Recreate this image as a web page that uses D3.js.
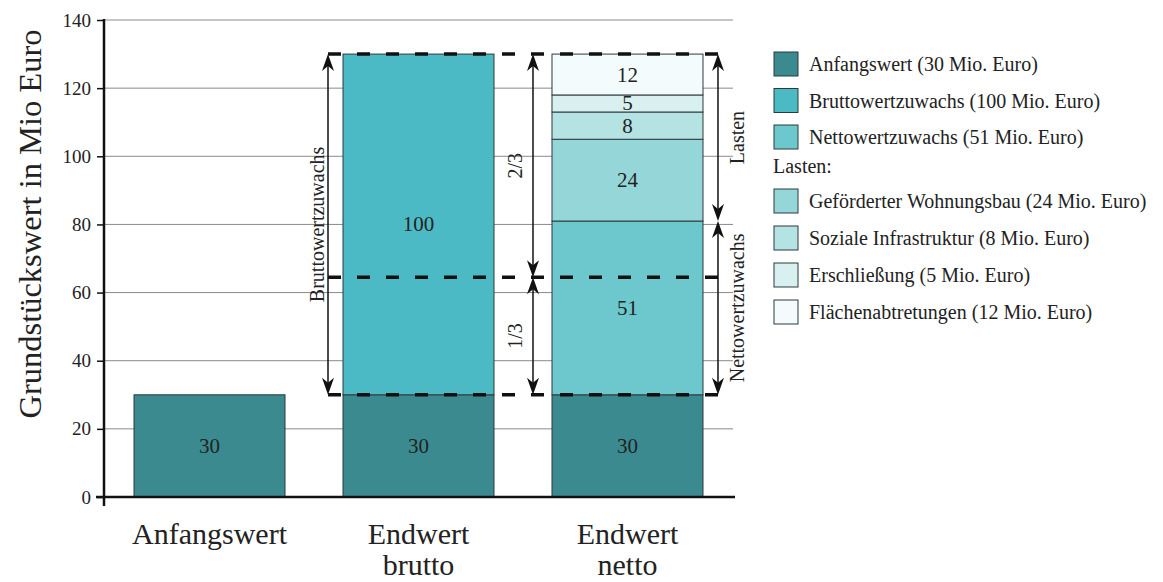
<!DOCTYPE html>
<html>
<head>
<meta charset="utf-8">
<script src="https://cdn.jsdelivr.net/npm/d3@7"></script>
<style>
  html, body { margin: 0; padding: 0; background: #fff; }
  svg text { font-family: "Liberation Serif", "Times New Roman", serif; fill: #222; }
</style>
</head>
<body>
<svg id="chart" width="1163" height="582"></svg>
<script>
// ---------- data ----------
const categories = ["Anfangswert", "Endwert brutto", "Endwert netto"];
const categoryLines = [["Anfangswert"], ["Endwert", "brutto"], ["Endwert", "netto"]];
const seriesKeys = ["Anfangswert", "Bruttowertzuwachs", "Nettowertzuwachs",
  "Geförderter Wohnungsbau", "Soziale Infrastruktur", "Erschließung", "Flächenabtretungen"];
const anfangswert       = [30, 30, 30];
const bruttowertzuwachs = [0, 100, 0];
const nettowertzuwachs  = [0, 0, 51];
const gefoerdert        = [0, 0, 24];
const sozialeInfra      = [0, 0, 8];
const erschliessung     = [0, 0, 5];
const flaechen          = [0, 0, 12];
const seriesColors = ["#3b8a90", "#4cbac4", "#6dc8cd", "#95d6d8", "#b5e3e4", "#d8f0f0", "#f4fbfc"];
const legendLabels = ["Anfangswert (30 Mio. Euro)", "Bruttowertzuwachs (100 Mio. Euro)",
  "Nettowertzuwachs (51 Mio. Euro)", "Geförderter Wohnungsbau (24 Mio. Euro)",
  "Soziale Infrastruktur (8 Mio. Euro)", "Erschließung (5 Mio. Euro)",
  "Flächenabtretungen (12 Mio. Euro)"];
const yTicks = [0, 20, 40, 60, 80, 100, 120, 140];
const dashLevels = [130, 64.5, 30];   // Endwert top, 1/3 split, Anfangswert level
const yTitle = "Grundstückswert in Mio Euro";

// ---------- setup ----------
const svg = d3.select("#chart");
const y = d3.scaleLinear().domain([0, 140]).range([497, 20]);
const x = d3.scaleBand().domain(categories).range([105, 732])
  .paddingInner(0.2775).paddingOuter(0.1388);
const bw = x.bandwidth();

const seriesArrays = [anfangswert, bruttowertzuwachs, nettowertzuwachs, gefoerdert,
  sozialeInfra, erschliessung, flaechen];
const rows = categories.map((c, i) => {
  const r = { cat: c };
  seriesKeys.forEach((k, j) => r[k] = seriesArrays[j][i]);
  return r;
});
const stacked = d3.stack().keys(seriesKeys)(rows);
const color = d3.scaleOrdinal().domain(seriesKeys).range(seriesColors);

// gridlines
svg.append("g").selectAll("line").data(yTicks.filter(d => d > 0)).join("line")
  .attr("x1", 104).attr("x2", 733)
  .attr("y1", d => y(d)).attr("y2", d => y(d))
  .attr("stroke", "#8a8a8a").attr("stroke-width", 1);

// bars
const segs = [];
stacked.forEach(s => s.forEach(d => {
  if (d[1] - d[0] > 0) segs.push({ key: s.key, cat: d.data.cat, y0: d[0], y1: d[1] });
}));
svg.append("g").selectAll("rect").data(segs).join("rect")
  .attr("x", d => x(d.cat)).attr("width", bw)
  .attr("y", d => y(d.y1)).attr("height", d => y(d.y0) - y(d.y1))
  .attr("fill", d => color(d.key))
  .attr("stroke", "#2d3a3c").attr("stroke-width", 1);

svg.append("g").selectAll("text").data(segs).join("text")
  .attr("x", d => x(d.cat) + bw / 2)
  .attr("y", d => y((d.y0 + d.y1) / 2))
  .attr("text-anchor", "middle").attr("dominant-baseline", "central")
  .attr("font-size", 21)
  .text(d => d.y1 - d.y0);

// dashed reference lines
const xBr = x("Endwert brutto"), xNe = x("Endwert netto");
const aLeft = xBr - 15, aMid = xNe - 19, aRight = xNe + bw + 15;
svg.append("g").selectAll("line").data(dashLevels).join("line")
  .attr("x1", aLeft).attr("x2", aRight)
  .attr("y1", d => y(d)).attr("y2", d => y(d))
  .attr("stroke", "#111").attr("stroke-width", 3.5)
  .attr("stroke-dasharray", "13,16");

// arrows
const arrows = [
  { x: aLeft, from: 30, to: 130, label: "Bruttowertzuwachs", dx: -11 },
  { x: aMid, from: dashLevels[1], to: 130, label: "2/3", dx: -18 },
  { x: aMid, from: 30, to: dashLevels[1], label: "1/3", dx: -18 },
  { x: aRight, from: 30 + 51, to: 130, label: "Lasten", dx: 19 },
  { x: aRight, from: 30, to: 30 + 51, label: "Nettowertzuwachs", dx: 19 }
];
const ag = svg.append("g");
arrows.forEach(a => {
  const yt = y(a.to), yb = y(a.from);
  ag.append("line").attr("x1", a.x).attr("x2", a.x).attr("y1", yt + 4).attr("y2", yb - 4)
    .attr("stroke", "#111").attr("stroke-width", 1.5);
  ag.append("path")
    .attr("d", `M${a.x},${yt} L${a.x - 6},${yt + 17} L${a.x},${yt + 12} L${a.x + 6},${yt + 17} Z`)
    .attr("fill", "#111");
  ag.append("path")
    .attr("d", `M${a.x},${yb} L${a.x - 6},${yb - 17} L${a.x},${yb - 12} L${a.x + 6},${yb - 17} Z`)
    .attr("fill", "#111");
  const cy = (yt + yb) / 2, cx = a.x + a.dx;
  ag.append("text")
    .attr("transform", `translate(${cx},${cy}) rotate(-90)`)
    .attr("text-anchor", "middle").attr("dominant-baseline", "central")
    .attr("font-size", 20)
    .text(a.label);
});

// axes
svg.append("line").attr("x1", 96).attr("x2", 735).attr("y1", y(0)).attr("y2", y(0))
  .attr("stroke", "#111").attr("stroke-width", 2.5);
svg.append("line").attr("x1", 104).attr("x2", 104).attr("y1", y(140) - 1).attr("y2", y(0) + 9)
  .attr("stroke", "#111").attr("stroke-width", 2.5);
const yAxis = d3.axisLeft(y).tickValues(yTicks).tickSize(7).tickPadding(6).tickFormat(d3.format("d"));
const yg = svg.append("g").attr("transform", "translate(104,0)").call(yAxis)
  .attr("font-family", "Liberation Serif, serif");
yg.select(".domain").remove();
yg.selectAll(".tick line").attr("stroke", "#111").attr("stroke-width", 1.5);
yg.selectAll(".tick text").attr("font-size", 19)
  .style("font-family", "'Liberation Serif', serif").attr("fill", "#222");

svg.append("text")
  .attr("transform", `translate(30,224) rotate(-90)`)
  .attr("text-anchor", "middle").attr("dominant-baseline", "central")
  .attr("font-size", 32.5)
  .text(yTitle);

// category labels
categories.forEach((c, i) => {
  categoryLines[i].forEach((ln, j) => {
    svg.append("text")
      .attr("x", x(c) + bw / 2).attr("y", 544 + j * 31)
      .attr("text-anchor", "middle").attr("font-size", 30)
      .text(ln);
  });
});

// legend
const lg = svg.append("g");
const legendTops = [52, 88.5, 125, 189, 226, 263, 300];
legendLabels.forEach((lab, i) => {
  lg.append("rect").attr("x", 774).attr("y", legendTops[i]).attr("width", 24).attr("height", 24)
    .attr("fill", seriesColors[i]).attr("stroke", "#2d3a3c").attr("stroke-width", 1);
  lg.append("text").attr("x", 809).attr("y", legendTops[i] + 12)
    .attr("dominant-baseline", "central").attr("font-size", 20).text(lab);
});
lg.append("text").attr("x", 773).attr("y", 166).attr("dominant-baseline", "central")
  .attr("font-size", 20).text("Lasten:");
</script>
</body>
</html>
